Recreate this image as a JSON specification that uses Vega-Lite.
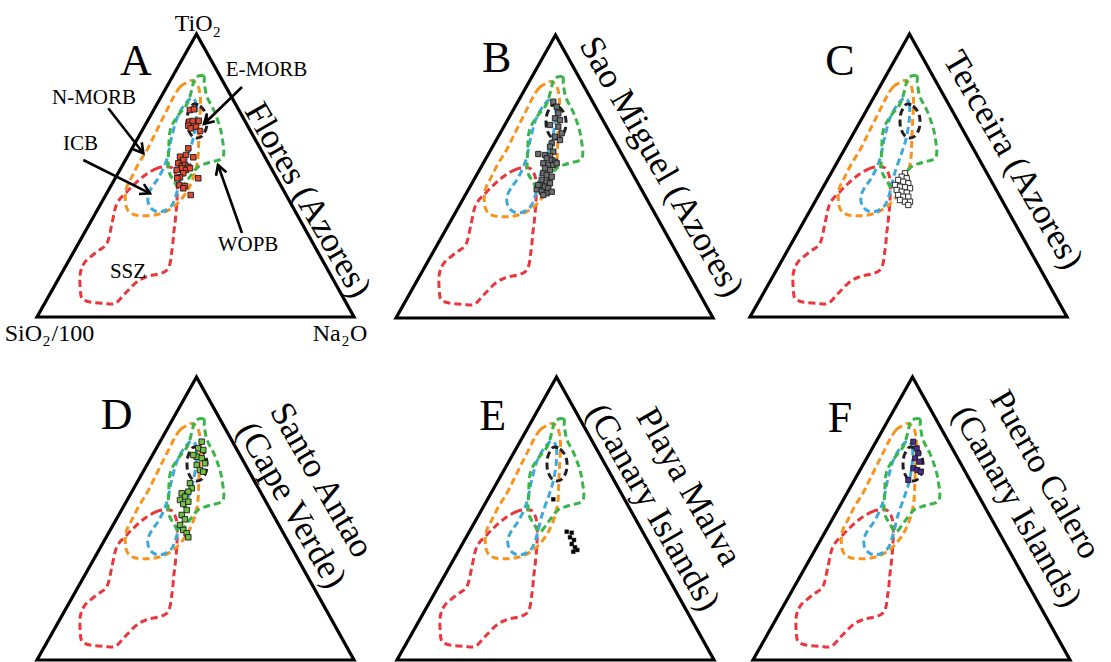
{
"$schema":"https://vega.github.io/schema/vega-lite/v6.json",
"padding":0,
"background":"white",
"spacing":0,
"resolve":{"scale":{"x":"independent","y":"independent"}},
"config":{"view":{"stroke":null},"text":{"font":"Liberation Serif","color":"black"}},
"datasets":{
"tri":[{"i":0,"x":158.5,"y":0},{"i":1,"x":317,"y":0},{"i":2,"x":159.5,"y":283},{"i":3,"x":0,"y":0},{"i":4,"x":158.5,"y":0}],
"fields":[
{"field":"SSZ","i":0,"x":131.7,"y":150.3},{"field":"SSZ","i":1,"x":120,"y":148.7},{"field":"SSZ","i":2,"x":108.3,"y":142},{"field":"SSZ","i":3,"x":98.3,"y":133.7},{"field":"SSZ","i":4,"x":90,"y":125.3},{"field":"SSZ","i":5,"x":80,"y":113.7},{"field":"SSZ","i":6,"x":75,"y":93.7},{"field":"SSZ","i":7,"x":70,"y":73.7},{"field":"SSZ","i":8,"x":60,"y":65.3},{"field":"SSZ","i":9,"x":48.3,"y":55.3},{"field":"SSZ","i":10,"x":43.3,"y":43.7},{"field":"SSZ","i":11,"x":43.3,"y":27},{"field":"SSZ","i":12,"x":45,"y":18.7},{"field":"SSZ","i":13,"x":51.7,"y":15.3},{"field":"SSZ","i":14,"x":66.7,"y":13.7},{"field":"SSZ","i":15,"x":78.3,"y":13.7},{"field":"SSZ","i":16,"x":88.3,"y":23.7},{"field":"SSZ","i":17,"x":100,"y":35.3},{"field":"SSZ","i":18,"x":110,"y":40.3},{"field":"SSZ","i":19,"x":130,"y":47},{"field":"SSZ","i":20,"x":135,"y":67},{"field":"SSZ","i":21,"x":136.7,"y":83.7},{"field":"SSZ","i":22,"x":138.3,"y":97},{"field":"SSZ","i":23,"x":140,"y":117},{"field":"SSZ","i":24,"x":140,"y":137},{"field":"SSZ","i":25,"x":136.7,"y":147},
{"field":"N-MORB","i":0,"x":151.7,"y":235.3},{"field":"N-MORB","i":1,"x":143.3,"y":230.3},{"field":"N-MORB","i":2,"x":136.7,"y":220.3},{"field":"N-MORB","i":3,"x":130,"y":207},{"field":"N-MORB","i":4,"x":123.3,"y":193.7},{"field":"N-MORB","i":5,"x":116.7,"y":180.3},{"field":"N-MORB","i":6,"x":110,"y":167},{"field":"N-MORB","i":7,"x":101.7,"y":153.7},{"field":"N-MORB","i":8,"x":95,"y":140.3},{"field":"N-MORB","i":9,"x":89.3,"y":128.7},{"field":"N-MORB","i":10,"x":88.3,"y":117},{"field":"N-MORB","i":11,"x":90.7,"y":107},{"field":"N-MORB","i":12,"x":98.3,"y":102},{"field":"N-MORB","i":13,"x":111.7,"y":101.3},{"field":"N-MORB","i":14,"x":125,"y":103.7},{"field":"N-MORB","i":15,"x":136.7,"y":110.3},{"field":"N-MORB","i":16,"x":145,"y":118.7},{"field":"N-MORB","i":17,"x":151.7,"y":128.7},{"field":"N-MORB","i":18,"x":157.3,"y":142},{"field":"N-MORB","i":19,"x":160.7,"y":157},{"field":"N-MORB","i":20,"x":161.7,"y":173.7},{"field":"N-MORB","i":21,"x":162.3,"y":190.3},{"field":"N-MORB","i":22,"x":163.3,"y":207},{"field":"N-MORB","i":23,"x":163.3,"y":220.3},{"field":"N-MORB","i":24,"x":160.7,"y":232},{"field":"N-MORB","i":25,"x":155,"y":236.3},
{"field":"ICB","i":0,"x":155,"y":219},{"field":"ICB","i":1,"x":159.5,"y":212},{"field":"ICB","i":2,"x":159,"y":195},{"field":"ICB","i":3,"x":156,"y":178},{"field":"ICB","i":4,"x":152,"y":165},{"field":"ICB","i":5,"x":145,"y":145},{"field":"ICB","i":6,"x":140,"y":125},{"field":"ICB","i":7,"x":135,"y":112},{"field":"ICB","i":8,"x":127,"y":106},{"field":"ICB","i":9,"x":118,"y":106},{"field":"ICB","i":10,"x":112,"y":112},{"field":"ICB","i":11,"x":111,"y":121},{"field":"ICB","i":12,"x":115,"y":130},{"field":"ICB","i":13,"x":122,"y":140},{"field":"ICB","i":14,"x":130,"y":158},{"field":"ICB","i":15,"x":134,"y":177},{"field":"ICB","i":16,"x":140,"y":199},{"field":"ICB","i":17,"x":148,"y":213},
{"field":"WOPB","i":0,"x":158,"y":239},{"field":"WOPB","i":1,"x":166.7,"y":241},{"field":"WOPB","i":2,"x":167.3,"y":233.7},{"field":"WOPB","i":3,"x":170,"y":220.3},{"field":"WOPB","i":4,"x":176.7,"y":207},{"field":"WOPB","i":5,"x":181.7,"y":193.7},{"field":"WOPB","i":6,"x":185,"y":180.3},{"field":"WOPB","i":7,"x":186,"y":160},{"field":"WOPB","i":8,"x":172,"y":154.5},{"field":"WOPB","i":9,"x":161,"y":150},{"field":"WOPB","i":10,"x":152,"y":139},{"field":"WOPB","i":11,"x":143,"y":128},{"field":"WOPB","i":12,"x":137,"y":136},{"field":"WOPB","i":13,"x":131.5,"y":147},{"field":"WOPB","i":14,"x":131.7,"y":167},{"field":"WOPB","i":15,"x":133.3,"y":187},{"field":"WOPB","i":16,"x":140,"y":200},{"field":"WOPB","i":17,"x":150,"y":213},{"field":"WOPB","i":18,"x":155,"y":228},
{"field":"E-MORB","i":0,"x":157,"y":213},{"field":"E-MORB","i":1,"x":163,"y":211},{"field":"E-MORB","i":2,"x":168,"y":205},{"field":"E-MORB","i":3,"x":170,"y":197},{"field":"E-MORB","i":4,"x":169,"y":188},{"field":"E-MORB","i":5,"x":165,"y":181},{"field":"E-MORB","i":6,"x":160,"y":179},{"field":"E-MORB","i":7,"x":155,"y":181},{"field":"E-MORB","i":8,"x":151,"y":188},{"field":"E-MORB","i":9,"x":150,"y":196},{"field":"E-MORB","i":10,"x":151,"y":204},{"field":"E-MORB","i":11,"x":154,"y":210}
],
"points":[
{"panel":"A","x":153,"y":207},{"panel":"A","x":157,"y":207.7},{"panel":"A","x":152.3,"y":195.3},{"panel":"A","x":155.7,"y":196},{"panel":"A","x":151.3,"y":191.3},{"panel":"A","x":153.7,"y":188.7},{"panel":"A","x":159,"y":190.3},{"panel":"A","x":163,"y":186},{"panel":"A","x":161.7,"y":196.3},{"panel":"A","x":151.3,"y":168.7},{"panel":"A","x":149,"y":162},{"panel":"A","x":156.3,"y":159.7},{"panel":"A","x":143,"y":160.3},{"panel":"A","x":146.3,"y":157},{"panel":"A","x":141.3,"y":153.7},{"panel":"A","x":144.7,"y":151},{"panel":"A","x":148,"y":152},{"panel":"A","x":151.3,"y":150.3},{"panel":"A","x":144.7,"y":148.7},{"panel":"A","x":149,"y":147},{"panel":"A","x":153,"y":148.7},{"panel":"A","x":139.7,"y":147},{"panel":"A","x":146.3,"y":143.7},{"panel":"A","x":143,"y":139.7},{"panel":"A","x":140.3,"y":138.7},{"panel":"A","x":142.3,"y":132},{"panel":"A","x":148,"y":131},{"panel":"A","x":146.3,"y":128.7},{"panel":"A","x":153.7,"y":122},{"panel":"A","x":161.3,"y":138.7},
{"panel":"B","x":157.3,"y":216.3},{"panel":"B","x":160.7,"y":211.3},{"panel":"B","x":162.3,"y":204.7},{"panel":"B","x":159,"y":199.7},{"panel":"B","x":164,"y":198},{"panel":"B","x":154,"y":193},{"panel":"B","x":162.3,"y":191.3},{"panel":"B","x":165.7,"y":184.7},{"panel":"B","x":159,"y":181.3},{"panel":"B","x":164,"y":178},{"panel":"B","x":155.7,"y":174.7},{"panel":"B","x":154,"y":171.3},{"panel":"B","x":157.3,"y":166.3},{"panel":"B","x":142.3,"y":164},{"panel":"B","x":149,"y":163},{"panel":"B","x":154,"y":162},{"panel":"B","x":150.7,"y":159.7},{"panel":"B","x":155.7,"y":158},{"panel":"B","x":159,"y":156.3},{"panel":"B","x":147.3,"y":154.7},{"panel":"B","x":152.3,"y":153},{"panel":"B","x":157.3,"y":153},{"panel":"B","x":160.7,"y":154.7},{"panel":"B","x":149,"y":149.7},{"panel":"B","x":154,"y":148},{"panel":"B","x":147.3,"y":144.7},{"panel":"B","x":150.7,"y":143},{"panel":"B","x":155.7,"y":141.3},{"panel":"B","x":145.7,"y":138},{"panel":"B","x":150.7,"y":136.3},{"panel":"B","x":154,"y":134.7},{"panel":"B","x":144,"y":133},{"panel":"B","x":149,"y":131.3},{"panel":"B","x":152.3,"y":129.7},{"panel":"B","x":140.7,"y":128.7},{"panel":"B","x":145.7,"y":126.3},{"panel":"B","x":150.7,"y":124.7},{"panel":"B","x":147.3,"y":123},{"panel":"B","x":155.7,"y":126.3},{"panel":"B","x":142.3,"y":133},
{"panel":"C","x":155,"y":143.7},{"panel":"C","x":151.7,"y":140.3},{"panel":"C","x":156.7,"y":138.7},{"panel":"C","x":148.3,"y":137},{"panel":"C","x":153.3,"y":135.3},{"panel":"C","x":158.3,"y":133.7},{"panel":"C","x":145,"y":132},{"panel":"C","x":150,"y":130.3},{"panel":"C","x":155,"y":129.7},{"panel":"C","x":160,"y":128.7},{"panel":"C","x":146.7,"y":127},{"panel":"C","x":151.7,"y":125.3},{"panel":"C","x":156.7,"y":124.3},{"panel":"C","x":148.3,"y":122},{"panel":"C","x":153.3,"y":120.3},{"panel":"C","x":158.3,"y":120.3},{"panel":"C","x":150,"y":117},{"panel":"C","x":155,"y":115.3},{"panel":"C","x":160,"y":115.3},{"panel":"C","x":158.3,"y":112},
{"panel":"D","x":164.7,"y":218.3},{"panel":"D","x":161.3,"y":211.7},{"panel":"D","x":166.3,"y":210},{"panel":"D","x":159.7,"y":203.3},{"panel":"D","x":164.7,"y":201.7},{"panel":"D","x":168,"y":196.7},{"panel":"D","x":159.7,"y":195},{"panel":"D","x":163,"y":190},{"panel":"D","x":166.3,"y":188.3},{"panel":"D","x":153,"y":176.7},{"panel":"D","x":154.7,"y":171.7},{"panel":"D","x":151.3,"y":168.3},{"panel":"D","x":144.7,"y":166.7},{"panel":"D","x":148,"y":163.3},{"panel":"D","x":143,"y":160},{"panel":"D","x":146.3,"y":156},{"panel":"D","x":151.3,"y":158.3},{"panel":"D","x":149.7,"y":150},{"panel":"D","x":144.7,"y":145},{"panel":"D","x":148,"y":140.7},{"panel":"D","x":143,"y":135},{"panel":"D","x":146.3,"y":130},{"panel":"D","x":149.7,"y":126.7},{"panel":"D","x":151.3,"y":122.7},{"panel":"D","x":156.3,"y":205},
{"panel":"E","x":169.7,"y":128.3},{"panel":"E","x":174.7,"y":127.3},{"panel":"E","x":173,"y":122.7},{"panel":"E","x":177,"y":120},{"panel":"E","x":174.7,"y":116},{"panel":"E","x":178,"y":112.7},{"panel":"E","x":180.3,"y":110},{"panel":"E","x":176.3,"y":108.3},{"panel":"E","x":156.3,"y":160.7},
{"panel":"F","x":160.3,"y":218.3},{"panel":"F","x":163.7,"y":211.7},{"panel":"F","x":165.3,"y":206.7},{"panel":"F","x":162,"y":201.7},{"panel":"F","x":166.3,"y":198.3},{"panel":"F","x":160.3,"y":191.7},{"panel":"F","x":164.3,"y":190},{"panel":"F","x":167.7,"y":188.3},{"panel":"F","x":155.3,"y":180}
],
"labels":[
{"panel":"A","kind":"letter","x":99,"y":255,"text":"A"},
{"panel":"A","kind":"side","x":271,"y":117,"text":"Flores (Azores)"},
{"panel":"A","kind":"field","x":57,"y":219,"text":"N-MORB"},
{"panel":"A","kind":"field","x":229.5,"y":247,"text":"E-MORB"},
{"panel":"A","kind":"field","x":43.5,"y":173,"text":"ICB"},
{"panel":"A","kind":"field","x":211,"y":72,"text":"WOPB"},
{"panel":"A","kind":"field","x":91,"y":45,"text":"SSZ"},
{"panel":"A","kind":"vr","x":175.5,"y":286,"text":"TiO"},
{"panel":"A","kind":"vr","x":5,"y":-23.7,"text":"SiO"},
{"panel":"A","kind":"vr","x":303.7,"y":-23.7,"text":"Na"},
{"panel":"A","kind":"vl","x":313,"y":-23.7,"text":"O"},
{"panel":"A","kind":"vl","x":14.5,"y":-23.7,"text":"/100"},
{"panel":"A","kind":"sub","x":176,"y":280.3,"text":"2"},
{"panel":"A","kind":"sub","x":5.7,"y":-29,"text":"2"},
{"panel":"A","kind":"sub","x":304.7,"y":-29,"text":"2"},
{"panel":"B","kind":"letter","x":100.7,"y":258.7,"text":"B"},
{"panel":"B","kind":"side","x":265.7,"y":151.3,"text":"Sao Miguel (Azores)"},
{"panel":"C","kind":"letter","x":90,"y":255.3,"text":"C"},
{"panel":"C","kind":"side","x":263.3,"y":157,"text":"Terceira (Azores)"},
{"panel":"D","kind":"letter","x":79.7,"y":244,"text":"D"},
{"panel":"D","kind":"side","x":284.7,"y":180,"text":"Santo Antao"},
{"panel":"D","kind":"side","x":254.7,"y":155,"text":"(Cape Verde)"},
{"panel":"E","kind":"letter","x":95.7,"y":242.7,"text":"E"},
{"panel":"E","kind":"side","x":292,"y":173.3,"text":"Playa Malva"},
{"panel":"E","kind":"side","x":256.3,"y":152.7,"text":"(Canary Islands)"},
{"panel":"F","kind":"letter","x":87,"y":240.7,"text":"F"},
{"panel":"F","kind":"side","x":291.8,"y":185.2,"text":"Puerto Calero"},
{"panel":"F","kind":"side","x":263.5,"y":153.3,"text":"(Canary Islands)"}
],
"arrows":[
{"seg":"n","i":0,"x":71.3,"y":208.7},{"seg":"n","i":1,"x":106.3,"y":163.7},
{"seg":"nh","i":0,"x":96.1,"y":167.8},{"seg":"nh","i":1,"x":106.3,"y":163.7},{"seg":"nh","i":2,"x":104.8,"y":174.6},
{"seg":"c","i":0,"x":46.3,"y":157},{"seg":"c","i":1,"x":113,"y":123.7},
{"seg":"ch","i":0,"x":102,"y":123},{"seg":"ch","i":1,"x":113,"y":123.7},{"seg":"ch","i":2,"x":106.9,"y":132.9},
{"seg":"e","i":0,"x":205,"y":230},{"seg":"e","i":1,"x":167,"y":193},
{"seg":"eh","i":0,"x":170,"y":203.6},{"seg":"eh","i":1,"x":167,"y":193},{"seg":"eh","i":2,"x":177.7,"y":195.7},
{"seg":"w","i":0,"x":205,"y":84},{"seg":"w","i":1,"x":181,"y":152},
{"seg":"wh","i":0,"x":189.4,"y":144.8},{"seg":"wh","i":1,"x":181,"y":152},{"seg":"wh","i":2,"x":179,"y":141.2}
]
},
"vconcat":[
{"hconcat":[
{"width":370,"height":352,
"encoding":{"x":{"field":"x","type":"quantitative","scale":{"domain":[-37,333],"nice":false,"zero":false},"axis":null},"y":{"field":"y","type":"quantitative","scale":{"domain":[-35,317],"nice":false,"zero":false},"axis":null}},
"layer":[
{"data":{"name":"tri"},"mark":{"type":"line","color":"black","strokeWidth":3.2,"strokeJoin":"miter"},"encoding":{"order":{"field":"i","type":"quantitative"}}},
{"data":{"name":"fields"},"mark":{"type":"line","strokeDash":[7,4],"strokeWidth":3,"interpolate":"cardinal-closed"},"encoding":{"color":{"field":"field","type":"nominal","scale":{"domain":["SSZ","N-MORB","ICB","WOPB","E-MORB"],"range":["#E8383D","#F7941D","#3FA9D8","#3AB54A","#231F20"]},"legend":null},"order":{"field":"i","type":"quantitative"}}},
{"data":{"name":"arrows"},"mark":{"type":"line","color":"black","strokeWidth":2.6,"strokeJoin":"miter"},"encoding":{"detail":{"field":"seg","type":"nominal"},"order":{"field":"i","type":"quantitative"}}},
{"data":{"name":"points"},"transform":[{"filter":"datum.panel === 'A'"}],"mark":{"type":"square","filled":true,"fill":"#E2492F","stroke":"#1a1a1a","strokeWidth":0.9,"size":30,"opacity":1}},
{"data":{"name":"labels"},"transform":[{"filter":"datum.panel === 'A' && datum.kind === 'letter'"}],"mark":{"type":"text","fontSize":44,"align":"center","baseline":"middle"},"encoding":{"text":{"field":"text","type":"nominal"}}},
{"data":{"name":"labels"},"transform":[{"filter":"datum.panel === 'A' && datum.kind === 'side'"}],"mark":{"type":"text","fontSize":35,"angle":60,"align":"center","baseline":"middle"},"encoding":{"text":{"field":"text","type":"nominal"}}},
{"data":{"name":"labels"},"transform":[{"filter":"datum.panel === 'A' && datum.kind === 'field'"}],"mark":{"type":"text","fontSize":21,"align":"center","baseline":"middle"},"encoding":{"text":{"field":"text","type":"nominal"}}},
{"data":{"name":"labels"},"transform":[{"filter":"datum.panel === 'A' && datum.kind === 'vr'"}],"mark":{"type":"text","fontSize":24,"align":"right","baseline":"alphabetic"},"encoding":{"text":{"field":"text","type":"nominal"}}},
{"data":{"name":"labels"},"transform":[{"filter":"datum.panel === 'A' && datum.kind === 'vl'"}],"mark":{"type":"text","fontSize":24,"align":"left","baseline":"alphabetic"},"encoding":{"text":{"field":"text","type":"nominal"}}},
{"data":{"name":"labels"},"transform":[{"filter":"datum.panel === 'A' && datum.kind === 'sub'"}],"mark":{"type":"text","fontSize":15,"align":"left","baseline":"alphabetic"},"encoding":{"text":{"field":"text","type":"nominal"}}}
]},
{"width":370,"height":352,
"encoding":{"x":{"field":"x","type":"quantitative","scale":{"domain":[-26,344],"nice":false,"zero":false},"axis":null},"y":{"field":"y","type":"quantitative","scale":{"domain":[-34,318],"nice":false,"zero":false},"axis":null}},
"layer":[
{"data":{"name":"tri"},"mark":{"type":"line","color":"black","strokeWidth":3.2,"strokeJoin":"miter"},"encoding":{"order":{"field":"i","type":"quantitative"}}},
{"data":{"name":"fields"},"mark":{"type":"line","strokeDash":[7,4],"strokeWidth":3,"interpolate":"cardinal-closed"},"encoding":{"color":{"field":"field","type":"nominal","scale":{"domain":["SSZ","N-MORB","ICB","WOPB","E-MORB"],"range":["#E8383D","#F7941D","#3FA9D8","#3AB54A","#231F20"]},"legend":null},"order":{"field":"i","type":"quantitative"}}},
{"data":{"name":"points"},"transform":[{"filter":"datum.panel === 'B'"}],"mark":{"type":"square","filled":true,"fill":"#6D6E71","stroke":"#1a1a1a","strokeWidth":0.9,"size":28,"opacity":1}},
{"data":{"name":"labels"},"transform":[{"filter":"datum.panel === 'B' && datum.kind === 'letter'"}],"mark":{"type":"text","fontSize":44,"align":"center","baseline":"middle"},"encoding":{"text":{"field":"text","type":"nominal"}}},
{"data":{"name":"labels"},"transform":[{"filter":"datum.panel === 'B' && datum.kind === 'side'"}],"mark":{"type":"text","fontSize":35,"angle":60,"align":"center","baseline":"middle"},"encoding":{"text":{"field":"text","type":"nominal"}}}
]},
{"width":371,"height":352,
"encoding":{"x":{"field":"x","type":"quantitative","scale":{"domain":[-10,361],"nice":false,"zero":false},"axis":null},"y":{"field":"y","type":"quantitative","scale":{"domain":[-35,317],"nice":false,"zero":false},"axis":null}},
"layer":[
{"data":{"name":"tri"},"mark":{"type":"line","color":"black","strokeWidth":3.2,"strokeJoin":"miter"},"encoding":{"order":{"field":"i","type":"quantitative"}}},
{"data":{"name":"fields"},"mark":{"type":"line","strokeDash":[7,4],"strokeWidth":3,"interpolate":"cardinal-closed"},"encoding":{"color":{"field":"field","type":"nominal","scale":{"domain":["SSZ","N-MORB","ICB","WOPB","E-MORB"],"range":["#E8383D","#F7941D","#3FA9D8","#3AB54A","#231F20"]},"legend":null},"order":{"field":"i","type":"quantitative"}}},
{"data":{"name":"points"},"transform":[{"filter":"datum.panel === 'C'"}],"mark":{"type":"square","filled":true,"fill":"#FFFFFF","stroke":"#1a1a1a","strokeWidth":0.9,"size":28,"opacity":1}},
{"data":{"name":"labels"},"transform":[{"filter":"datum.panel === 'C' && datum.kind === 'letter'"}],"mark":{"type":"text","fontSize":44,"align":"center","baseline":"middle"},"encoding":{"text":{"field":"text","type":"nominal"}}},
{"data":{"name":"labels"},"transform":[{"filter":"datum.panel === 'C' && datum.kind === 'side'"}],"mark":{"type":"text","fontSize":35,"angle":60,"align":"center","baseline":"middle"},"encoding":{"text":{"field":"text","type":"nominal"}}}
]}
],"spacing":0,"bounds":"flush","resolve":{"scale":{"x":"independent","y":"independent"}}},
{"hconcat":[
{"width":370,"height":310,
"encoding":{"x":{"field":"x","type":"quantitative","scale":{"domain":[-37,333],"nice":false,"zero":false},"axis":null},"y":{"field":"y","type":"quantitative","scale":{"domain":[-2,308],"nice":false,"zero":false},"axis":null}},
"layer":[
{"data":{"name":"tri"},"mark":{"type":"line","color":"black","strokeWidth":3.2,"strokeJoin":"miter"},"encoding":{"order":{"field":"i","type":"quantitative"}}},
{"data":{"name":"fields"},"mark":{"type":"line","strokeDash":[7,4],"strokeWidth":3,"interpolate":"cardinal-closed"},"encoding":{"color":{"field":"field","type":"nominal","scale":{"domain":["SSZ","N-MORB","ICB","WOPB","E-MORB"],"range":["#E8383D","#F7941D","#3FA9D8","#3AB54A","#231F20"]},"legend":null},"order":{"field":"i","type":"quantitative"}}},
{"data":{"name":"points"},"transform":[{"filter":"datum.panel === 'D'"}],"mark":{"type":"square","filled":true,"fill":"#72BF44","stroke":"#1a1a1a","strokeWidth":0.9,"size":30,"opacity":1}},
{"data":{"name":"labels"},"transform":[{"filter":"datum.panel === 'D' && datum.kind === 'letter'"}],"mark":{"type":"text","fontSize":44,"align":"center","baseline":"middle"},"encoding":{"text":{"field":"text","type":"nominal"}}},
{"data":{"name":"labels"},"transform":[{"filter":"datum.panel === 'D' && datum.kind === 'side'"}],"mark":{"type":"text","fontSize":35,"angle":60,"align":"center","baseline":"middle"},"encoding":{"text":{"field":"text","type":"nominal"}}}
]},
{"width":370,"height":310,
"encoding":{"x":{"field":"x","type":"quantitative","scale":{"domain":[-27,343],"nice":false,"zero":false},"axis":null},"y":{"field":"y","type":"quantitative","scale":{"domain":[-2,308],"nice":false,"zero":false},"axis":null}},
"layer":[
{"data":{"name":"tri"},"mark":{"type":"line","color":"black","strokeWidth":3.2,"strokeJoin":"miter"},"encoding":{"order":{"field":"i","type":"quantitative"}}},
{"data":{"name":"fields"},"mark":{"type":"line","strokeDash":[7,4],"strokeWidth":3,"interpolate":"cardinal-closed"},"encoding":{"color":{"field":"field","type":"nominal","scale":{"domain":["SSZ","N-MORB","ICB","WOPB","E-MORB"],"range":["#E8383D","#F7941D","#3FA9D8","#3AB54A","#231F20"]},"legend":null},"order":{"field":"i","type":"quantitative"}}},
{"data":{"name":"points"},"transform":[{"filter":"datum.panel === 'E'"}],"mark":{"type":"square","filled":true,"fill":"#000000","stroke":"#000000","strokeWidth":0.5,"size":14,"opacity":1}},
{"data":{"name":"labels"},"transform":[{"filter":"datum.panel === 'E' && datum.kind === 'letter'"}],"mark":{"type":"text","fontSize":44,"align":"center","baseline":"middle"},"encoding":{"text":{"field":"text","type":"nominal"}}},
{"data":{"name":"labels"},"transform":[{"filter":"datum.panel === 'E' && datum.kind === 'side'"}],"mark":{"type":"text","fontSize":35,"angle":60,"align":"center","baseline":"middle"},"encoding":{"text":{"field":"text","type":"nominal"}}}
]},
{"width":371,"height":310,
"encoding":{"x":{"field":"x","type":"quantitative","scale":{"domain":[-13,358],"nice":false,"zero":false},"axis":null},"y":{"field":"y","type":"quantitative","scale":{"domain":[-2,308],"nice":false,"zero":false},"axis":null}},
"layer":[
{"data":{"name":"tri"},"mark":{"type":"line","color":"black","strokeWidth":3.2,"strokeJoin":"miter"},"encoding":{"order":{"field":"i","type":"quantitative"}}},
{"data":{"name":"fields"},"mark":{"type":"line","strokeDash":[7,4],"strokeWidth":3,"interpolate":"cardinal-closed"},"encoding":{"color":{"field":"field","type":"nominal","scale":{"domain":["SSZ","N-MORB","ICB","WOPB","E-MORB"],"range":["#E8383D","#F7941D","#3FA9D8","#3AB54A","#231F20"]},"legend":null},"order":{"field":"i","type":"quantitative"}}},
{"data":{"name":"points"},"transform":[{"filter":"datum.panel === 'F'"}],"mark":{"type":"square","filled":true,"fill":"#4F2D8F","stroke":"#1a1a1a","strokeWidth":0.9,"size":26,"opacity":1}},
{"data":{"name":"labels"},"transform":[{"filter":"datum.panel === 'F' && datum.kind === 'letter'"}],"mark":{"type":"text","fontSize":44,"align":"center","baseline":"middle"},"encoding":{"text":{"field":"text","type":"nominal"}}},
{"data":{"name":"labels"},"transform":[{"filter":"datum.panel === 'F' && datum.kind === 'side'"}],"mark":{"type":"text","fontSize":34,"angle":60,"align":"center","baseline":"middle"},"encoding":{"text":{"field":"text","type":"nominal"}}}
]}
],"spacing":0,"bounds":"flush","resolve":{"scale":{"x":"independent","y":"independent"}}}
]
}
